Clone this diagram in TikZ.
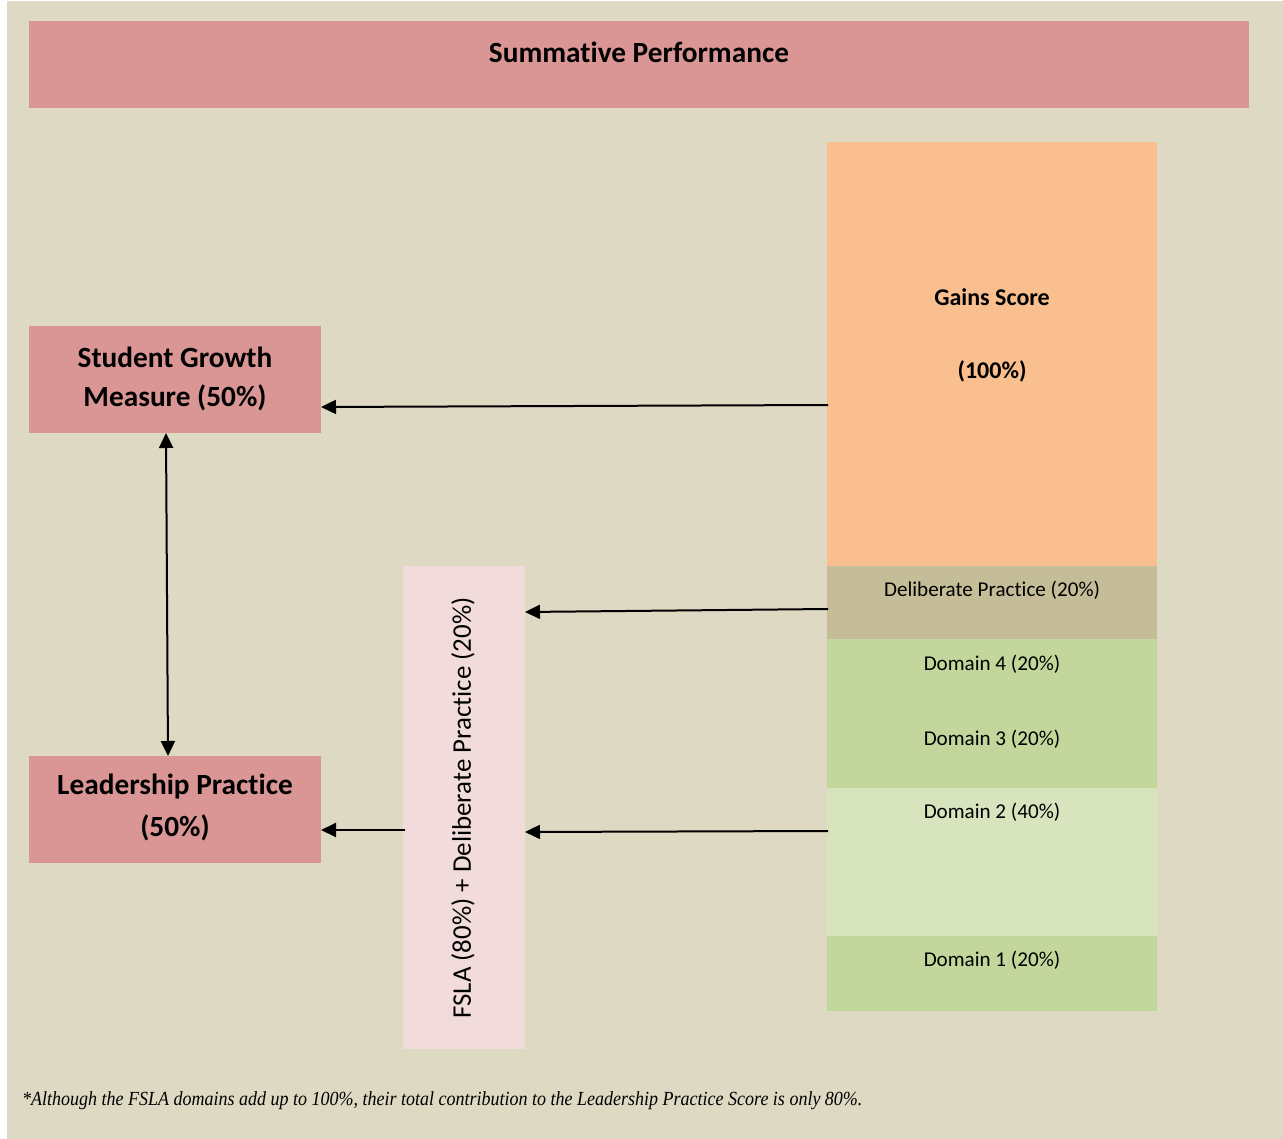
\documentclass[tikz,border=0pt]{standalone}
\usepackage{fontspec}
\setmainfont{Carlito}[Ligatures={NoCommon}]
\newfontfamily\notefont{Liberation Serif}
\usetikzlibrary{arrows.meta}
\definecolor{bgtan}{HTML}{DDD9C3}
\definecolor{rosebox}{HTML}{D99694}
\definecolor{orangebox}{HTML}{F9BF8F}
\definecolor{tanbox}{HTML}{C4BD97}
\definecolor{greenbox}{HTML}{C3D69B}
\definecolor{lightgreen}{HTML}{D7E4BD}
\definecolor{palepink}{HTML}{F2DCDB}
\tikzset{
  conn/.style={line width=2pt, -{Triangle[length=15pt,width=14pt]}},
  dconn/.style={line width=2pt, {Triangle[length=15pt,width=14pt]}-{Triangle[length=15pt,width=14pt]}},
  bigbold/.style={font=\fontsize{29.3}{34}\selectfont\bfseries},
  midbold/.style={font=\fontsize{24}{28}\selectfont\bfseries},
  small/.style={font=\fontsize{21.1}{25}\selectfont},
}
\begin{document}
\begin{tikzpicture}[x=1pt,y=-1pt]
\useasboundingbox (0,0) rectangle (1283,1139);
\fill[white] (0,0) rectangle (1283,1139);
\fill[bgtan] (7,1) rectangle (1283,1139);
% header
\fill[rosebox] (29,21) rectangle (1249,108);
\node[bigbold] (title) at (639,52) {Summative Performance};
% left boxes
\fill[rosebox] (29,326) rectangle (321,433);
\node[bigbold] (sgm1) at (175,357) {Student Growth};
\node[bigbold] (sgm2) at (175,398) {Measure (50\%)};
\fill[rosebox] (29,756) rectangle (321,863);
\node[bigbold] (lp1) at (175,787) {Leadership Practice};
\node[bigbold] (lp2) at (175,828) {(50\%)};
% FSLA box
\fill[palepink] (403,566) rectangle (525,1049);
\node[font=\fontsize{26.9}{31}\selectfont, rotate=90] (fsla) at (463,808) {FSLA (80\%) + Deliberate Practice (20\%)};
% right column
\fill[orangebox] (827,142) rectangle (1157,566);
\node[midbold] (gains) at (992,297) {Gains Score};
\node[midbold] (gainsp) at (992,371) {(100\%)};
\fill[tanbox] (827,566) rectangle (1157,639);
\node[small] (dp) at (992,590) {Deliberate Practice (20\%)};
\fill[greenbox] (827,639) rectangle (1157,788);
\node[small] (d4) at (992,664) {Domain 4 (20\%)};
\node[small] (d3) at (992,739) {Domain 3 (20\%)};
\fill[lightgreen] (827,788) rectangle (1157,936);
\node[small] (d2) at (992,812) {Domain 2 (40\%)};
\fill[greenbox] (827,936) rectangle (1157,1011);
\node[small] (d1) at (992,960) {Domain 1 (20\%)};
% connectors
\coordinate (gainsL) at (828,405);
\coordinate (sgmR) at (321,407);
\coordinate (dpL) at (828,609);
\coordinate (fslaR1) at (525,612);
\coordinate (d2L) at (828,831);
\coordinate (fslaR2) at (525,832);
\coordinate (fslaL) at (405,830);
\coordinate (lpR) at (321,830);
\coordinate (sgmB) at (166,433);
\coordinate (lpT) at (168,756);
\draw[conn] (gainsL) -- (sgmR);
\draw[conn] (dpL) -- (fslaR1);
\draw[conn] (d2L) -- (fslaR2);
\draw[conn] (fslaL) -- (lpR);
\draw[dconn] (sgmB) -- (lpT);
% footnote
\node[anchor=west, inner sep=0pt, font=\notefont\itshape\fontsize{20}{24}\selectfont, xscale=0.9] (note) at (22,1101) {*Although the FSLA domains add up to 100\%, their total contribution to the Leadership Practice Score is only 80\%.};
\end{tikzpicture}
\end{document}
